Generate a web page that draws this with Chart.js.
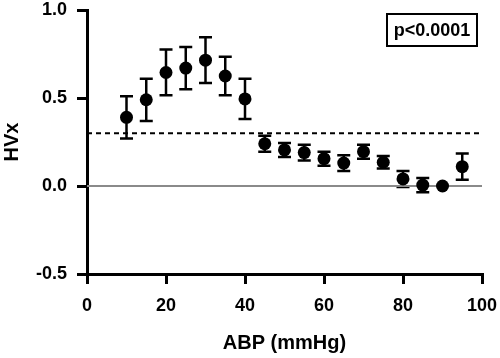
<!DOCTYPE html>
<html>
<head>
<meta charset="utf-8">
<script src="https://cdn.jsdelivr.net/npm/chart.js@4.4.0/dist/chart.umd.min.js"></script>
<style>
  html, body { margin: 0; padding: 0; background: #fff; }
  #wrap { width: 500px; height: 358px; }
</style>
</head>
<body>
<div id="wrap"><canvas id="c" width="500" height="358"></canvas></div>
<script>
// ABP bins (mmHg) and mean HVx with error (half-length of bar)
var abp = [10, 15, 20, 25, 30, 35, 40, 45, 50, 55, 60, 65, 70, 75, 80, 85, 90, 95];
var hvx = [0.39, 0.49, 0.645, 0.67, 0.715, 0.625, 0.495, 0.24, 0.205, 0.19, 0.155, 0.13, 0.195, 0.135, 0.04, 0.005, 0.0, 0.11];
var err = [0.12, 0.12, 0.13, 0.12, 0.13, 0.11, 0.115, 0.045, 0.04, 0.045, 0.04, 0.045, 0.04, 0.035, 0.045, 0.04, 0, 0.075];
var threshold = 0.3;
var pLabel = 'p<0.0001';
var xTitle = 'ABP (mmHg)';
var yTitle = 'HVx';

var FONT = 'Liberation Sans, Arial, Helvetica, sans-serif';

var points = abp.map(function(x, i) { return { x: x, y: hvx[i] }; });

var errorBars = {
    id: 'errorBars',
    beforeDatasetsDraw: function(chart) {
        var ctx = chart.ctx;
        var xs = chart.scales.x, ys = chart.scales.y;
        ctx.save();
        ctx.strokeStyle = '#000';
        ctx.lineWidth = 2.5;
        for (var i = 0; i < abp.length; i++) {
            if (!err[i]) continue;
            var px = xs.getPixelForValue(abp[i]);
            var top = ys.getPixelForValue(hvx[i] + err[i]);
            var bot = ys.getPixelForValue(hvx[i] - err[i]);
            ctx.beginPath();
            ctx.moveTo(px, top); ctx.lineTo(px, bot);
            ctx.moveTo(px - 6.5, top); ctx.lineTo(px + 6.5, top);
            ctx.moveTo(px - 6.5, bot); ctx.lineTo(px + 6.5, bot);
            ctx.stroke();
        }
        ctx.restore();
    },
    afterDraw: function(chart) {
        var ctx = chart.ctx;
        ctx.save();
        ctx.strokeStyle = '#000';
        ctx.lineWidth = 2;
        ctx.strokeRect(387, 14, 90, 32);
        ctx.fillStyle = '#000';
        ctx.font = 'bold 18px ' + FONT;
        ctx.textAlign = 'center';
        ctx.textBaseline = 'middle';
        ctx.fillText(pLabel, 432, 31);
        ctx.restore();
    }
};

new Chart(document.getElementById('c'), {
    type: 'scatter',
    data: {
        datasets: [
            {
                data: [{ x: 0, y: 0 }, { x: 100, y: 0 }],
                type: 'line', showLine: true, pointRadius: 0,
                borderColor: '#8a8a8a', borderWidth: 2, order: 3
            },
            {
                data: [{ x: 0, y: threshold }, { x: 100, y: threshold }],
                type: 'line', showLine: true, pointRadius: 0,
                borderColor: '#000', borderWidth: 2, borderDash: [5, 4], order: 2
            },
            {
                data: points,
                pointRadius: 6.5, pointBackgroundColor: '#000', pointBorderWidth: 0,
                order: 1
            }
        ]
    },
    options: {
        responsive: false,
        animation: false,
        events: [],
        layout: { padding: { top: 10, right: 18, left: 0, bottom: 0 } },
        plugins: { legend: { display: false }, tooltip: { enabled: false } },
        scales: {
            x: {
                type: 'linear', min: 0, max: 100,
                afterFit: function(s) { s.height = 84; s.paddingLeft = 0; s.paddingRight = 0; },
                ticks: { stepSize: 20, color: '#000', padding: 11, font: { family: FONT, size: 18, weight: 'bold' } },
                grid: { drawOnChartArea: false, drawTicks: true, tickLength: 10, color: '#000', lineWidth: 3 },
                border: { display: true, color: '#000', width: 3 },
                title: { display: true, text: xTitle, color: '#000', padding: { top: 4, bottom: 3 }, font: { family: FONT, size: 20, weight: 'bold' } }
            },
            y: {
                min: -0.5, max: 1.0,
                afterFit: function(s) { s.width = 87; s.paddingTop = 0; s.paddingBottom = 0; },
                ticks: { stepSize: 0.5, color: '#000', padding: 10, font: { family: FONT, size: 18, weight: 'bold' },
                    callback: function(v) { return v.toFixed(1); } },
                grid: { drawOnChartArea: false, drawTicks: true, tickLength: 10, color: '#000', lineWidth: 3 },
                border: { display: true, color: '#000', width: 3 },
                title: { display: true, text: yTitle, color: '#000', padding: { top: 0, bottom: 0 }, font: { family: FONT, size: 20, weight: 'bold' } }
            }
        }
    },
    plugins: [errorBars]
});
</script>
</body>
</html>
